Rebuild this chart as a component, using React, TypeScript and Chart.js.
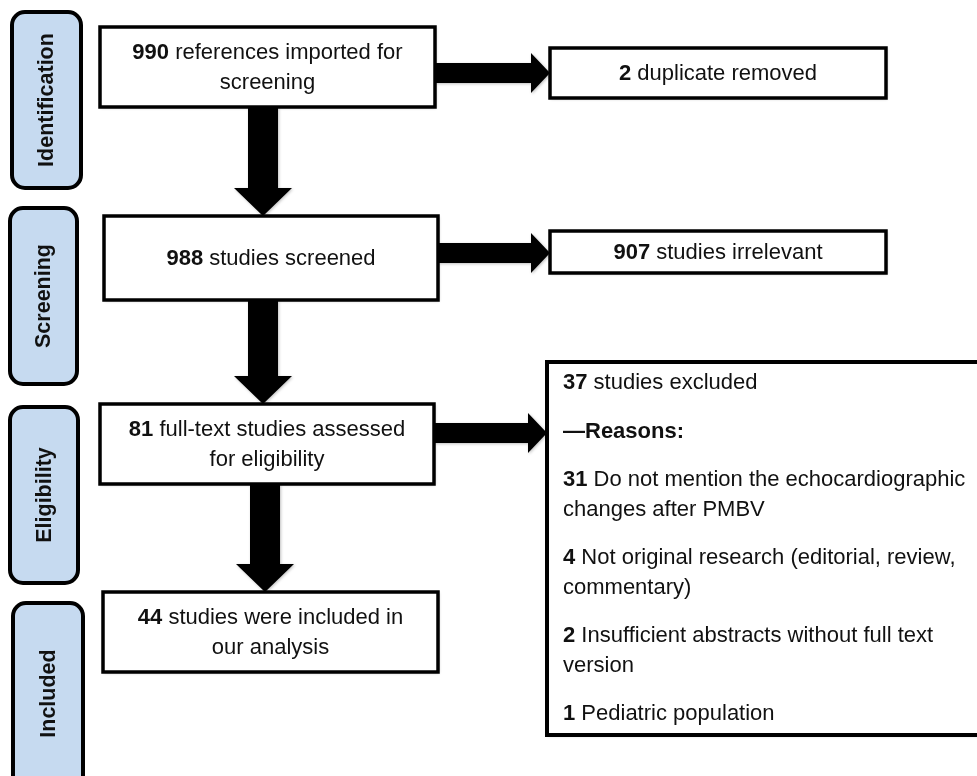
import React, { useEffect, useRef } from "react";
import { Chart, registerables } from "chart.js";

Chart.register(...registerables);

// ---------- data ----------
const stageLabels = ["Identification", "Screening", "Eligibility", "Included"];
const mainCounts = [990, 988, 81, 44];
const mainLines = [
  ["references imported for", "screening"],
  ["studies screened"],
  ["full-text studies assessed", "for eligibility"],
  ["studies were included in", "our analysis"],
];
const sideCounts = [2, 907];
const sideTexts = ["duplicate removed", "studies irrelevant"];
const excludedCount = 37;
const excludedText = "studies excluded";
const reasonsHeading = "\u2014Reasons:";
const reasonCounts = [31, 4, 2, 1];
const reasonLines = [
  ["Do not mention the echocardiographic", "changes after PMBV"],
  ["Not original research (editorial, review,", "commentary)"],
  ["Insufficient abstracts without full text", "version"],
  ["Pediatric population"],
];

// ---------- layout (scale units) ----------
const W = 977;
const H = 776;
const stageRects = [
  [12, 12, 81, 188],
  [10, 208, 77, 384],
  [10, 407, 78, 583],
  [13, 603, 83, 800],
];
const mainRects = [
  [100, 27, 435, 107],
  [104, 216, 438, 300],
  [100, 404, 434, 484],
  [103, 592, 438, 672],
];
const sideRects = [
  [550, 48, 886, 98],
  [550, 231, 886, 273],
  [547, 362, 990, 735],
];
const hArrowY = [73, 253, 433];
const vArrowX = [263, 263, 265];

const FONT = '"Liberation Sans", Arial, Helvetica, sans-serif';
const TEXT = "#111";
const STAGE_FILL = "#c6daf0";
const FS = 22;

type Part = { t: string; b: boolean };

function drawParts(ctx: CanvasRenderingContext2D, parts: Part[], x: number, y: number, size: number, align: "center" | "left") {
  const widths = parts.map((p) => {
    ctx.font = `${p.b ? "bold " : ""}${size}px ${FONT}`;
    return ctx.measureText(p.t).width;
  });
  const total = widths.reduce((a, b) => a + b, 0);
  let cx = align === "center" ? x - total / 2 : x;
  ctx.textAlign = "left";
  ctx.textBaseline = "middle";
  ctx.fillStyle = TEXT;
  parts.forEach((p, i) => {
    ctx.font = `${p.b ? "bold " : ""}${size}px ${FONT}`;
    ctx.fillText(p.t, cx, y);
    cx += widths[i];
  });
}

function roundRect(ctx: CanvasRenderingContext2D, x: number, y: number, w: number, h: number, r: number) {
  ctx.beginPath();
  ctx.moveTo(x + r, y);
  ctx.lineTo(x + w - r, y);
  ctx.arcTo(x + w, y, x + w, y + r, r);
  ctx.lineTo(x + w, y + h - r);
  ctx.arcTo(x + w, y + h, x + w - r, y + h, r);
  ctx.lineTo(x + r, y + h);
  ctx.arcTo(x, y + h, x, y + h - r, r);
  ctx.lineTo(x, y + r);
  ctx.arcTo(x, y, x + r, y, r);
  ctx.closePath();
}

const flowPlugin = {
  id: "flow",
  beforeDraw(chart: any) {
    const ctx: CanvasRenderingContext2D = chart.ctx;
    ctx.save();
    ctx.fillStyle = "#fff";
    ctx.fillRect(0, 0, chart.width, chart.height);
    ctx.restore();
  },
  afterDatasetsDraw(chart: any) {
    const ctx: CanvasRenderingContext2D = chart.ctx;
    const xs = chart.scales.x;
    const ys = chart.scales.y;
    const px = (v: number) => xs.getPixelForValue(v);
    const py = (v: number) => ys.getPixelForValue(v);
    const rect = (r: number[]) => {
      const x0 = px(r[0]);
      const y0 = py(r[1]);
      return { x: x0, y: y0, w: px(r[2]) - x0, h: py(r[3]) - y0 };
    };
    ctx.save();

    // stage labels
    stageLabels.forEach((lab, i) => {
      const r = rect(stageRects[i]);
      roundRect(ctx, r.x, r.y, r.w, r.h, 13);
      ctx.fillStyle = STAGE_FILL;
      ctx.fill();
      ctx.lineWidth = 4;
      ctx.strokeStyle = "#000";
      ctx.stroke();
      const cy = i === 3 ? py(stageRects[i][1]) + (py(H) - py(stageRects[i][1])) / 2 + 4 : r.y + r.h / 2;
      ctx.save();
      ctx.translate(r.x + r.w / 2, cy);
      ctx.rotate(-Math.PI / 2);
      ctx.font = `bold 21.5px ${FONT}`;
      ctx.fillStyle = TEXT;
      ctx.textAlign = "center";
      ctx.textBaseline = "middle";
      ctx.fillText(lab, 0, 1);
      ctx.restore();
    });

    // arrows
    ctx.fillStyle = "#000";
    ctx.shadowColor = "rgba(0,0,0,0.25)";
    ctx.shadowBlur = 3;
    ctx.shadowOffsetX = 1;
    ctx.shadowOffsetY = 1;
    // vertical
    for (let i = 0; i < 3; i++) {
      const cx = px(vArrowX[i]);
      const y0 = py(mainRects[i][3]);
      const y1 = py(mainRects[i + 1][1]);
      const sw = 15, hw = 29, hl = 28;
      ctx.beginPath();
      ctx.moveTo(cx - sw, y0);
      ctx.lineTo(cx + sw, y0);
      ctx.lineTo(cx + sw, y1 - hl);
      ctx.lineTo(cx + hw, y1 - hl);
      ctx.lineTo(cx, y1);
      ctx.lineTo(cx - hw, y1 - hl);
      ctx.lineTo(cx - sw, y1 - hl);
      ctx.closePath();
      ctx.fill();
    }
    // horizontal
    for (let i = 0; i < 3; i++) {
      const cy = py(hArrowY[i]);
      const x0 = px(mainRects[i][2]);
      const x1 = px(sideRects[i][0]);
      const sw = 10, hw = 20, hl = 19;
      ctx.beginPath();
      ctx.moveTo(x0, cy - sw);
      ctx.lineTo(x1 - hl, cy - sw);
      ctx.lineTo(x1 - hl, cy - hw);
      ctx.lineTo(x1, cy);
      ctx.lineTo(x1 - hl, cy + hw);
      ctx.lineTo(x1 - hl, cy + sw);
      ctx.lineTo(x0, cy + sw);
      ctx.closePath();
      ctx.fill();
    }

    // boxes
    const drawBox = (r: { x: number; y: number; w: number; h: number }, lw: number) => {
      ctx.shadowColor = "rgba(0,0,0,0.25)";
      ctx.shadowBlur = 3;
      ctx.shadowOffsetX = 1;
      ctx.shadowOffsetY = 1;
      ctx.fillStyle = "#fff";
      ctx.fillRect(r.x, r.y, r.w, r.h);
      ctx.shadowColor = "transparent";
      ctx.lineWidth = lw;
      ctx.strokeStyle = "#000";
      ctx.strokeRect(r.x, r.y, r.w, r.h);
    };

    mainRects.forEach((mr, i) => {
      const r = rect(mr);
      drawBox(r, 3.5);
      const lines = mainLines[i];
      const lh = 30;
      const cx = r.x + r.w / 2;
      const cy = r.y + r.h / 2;
      lines.forEach((ln, j) => {
        const y = cy + (j - (lines.length - 1) / 2) * lh + 1;
        const parts: Part[] = j === 0 ? [{ t: String(mainCounts[i]), b: true }, { t: " " + ln, b: false }] : [{ t: ln, b: false }];
        drawParts(ctx, parts, cx, y, FS, "center");
      });
    });

    sideRects.slice(0, 2).forEach((sr, i) => {
      const r = rect(sr);
      drawBox(r, 3.5);
      drawParts(ctx, [{ t: String(sideCounts[i]), b: true }, { t: " " + sideTexts[i], b: false }], r.x + r.w / 2, r.y + r.h / 2 + 1, FS, "center");
    });

    // excluded box
    const br = rect(sideRects[2]);
    drawBox(br, 4);
    const lx = br.x + 16;
    let y = br.y + 21;
    drawParts(ctx, [{ t: String(excludedCount), b: true }, { t: " " + excludedText, b: false }], lx, y, FS, "left");
    y += 49;
    drawParts(ctx, [{ t: reasonsHeading, b: true }], lx, y, FS, "left");
    y += 48;
    reasonLines.forEach((lines, i) => {
      lines.forEach((ln, j) => {
        const parts: Part[] = j === 0 ? [{ t: String(reasonCounts[i]), b: true }, { t: " " + ln, b: false }] : [{ t: ln, b: false }];
        drawParts(ctx, parts, lx, y, FS, "left");
        if (j < lines.length - 1) y += 30;
      });
      y += 48;
    });

    ctx.restore();
  },
};

export default function App() {
  const ref = useRef<HTMLCanvasElement | null>(null);
  useEffect(() => {
    document.body.style.margin = "0";
    const canvas = ref.current;
    if (!canvas) return;
    const chart = new Chart(canvas, {
      type: "scatter",
      data: { datasets: [{ data: [], pointRadius: 0 }] },
      options: {
        animation: false,
        responsive: false,
        devicePixelRatio: 1,
        layout: { padding: 0 },
        plugins: { legend: { display: false }, tooltip: { enabled: false } },
        scales: {
          x: { type: "linear", min: 0, max: W, display: false },
          y: { type: "linear", min: 0, max: H, reverse: true, display: false },
        },
      },
      plugins: [flowPlugin],
    });
    return () => chart.destroy();
  }, []);
  return <canvas ref={ref} width={W} height={H} style={{ display: "block" }} />;
}
